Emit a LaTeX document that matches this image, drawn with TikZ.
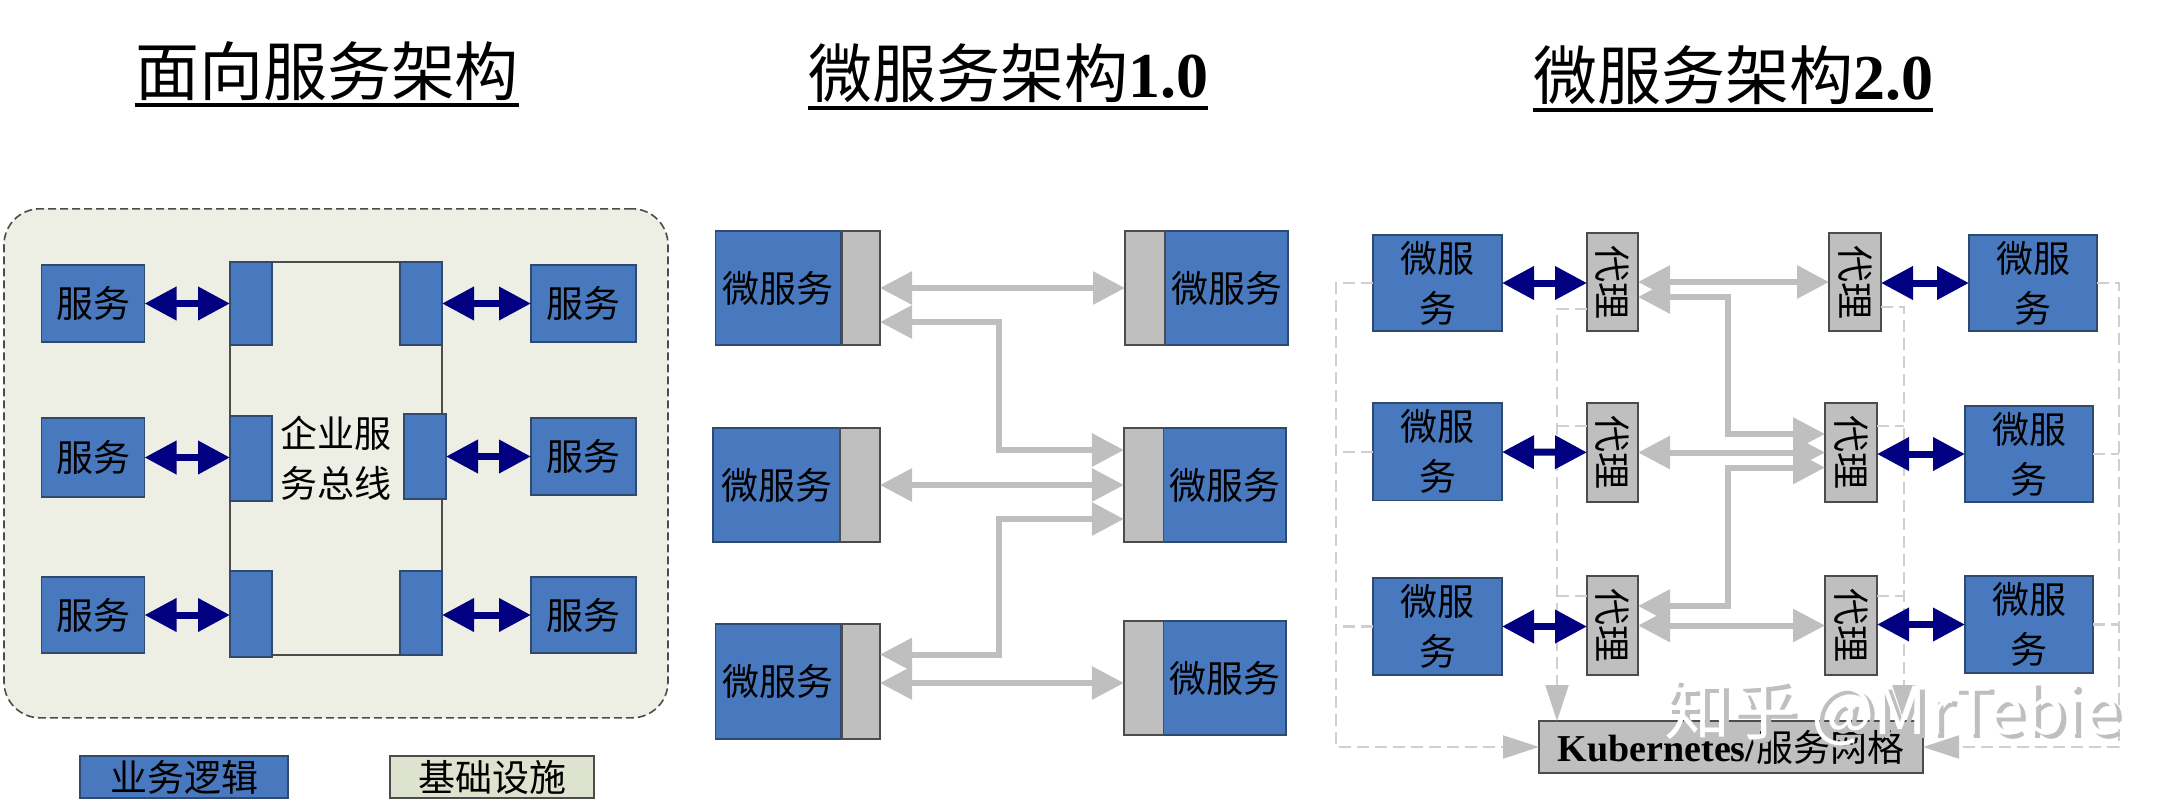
\documentclass[tikz,border=0pt]{standalone}
\usepackage{fontspec}
\usepackage{tikz}
\usetikzlibrary{arrows.meta}
\setmainfont{Noto Sans CJK SC}
\newfontfamily\latinfont{Liberation Serif}
\definecolor{svcblue}{HTML}{4878BE}
\definecolor{svcedge}{HTML}{2F4A6E}
\definecolor{infra}{HTML}{EEEFE4}
\definecolor{infrakey}{HTML}{DDE3CF}
\definecolor{lane}{HTML}{BFBFBF}
\definecolor{dashlane}{HTML}{CFCFCF}
\newcommand{\proxytext}{\rotatebox{-90}{代理}}

\begin{document}
\begin{tikzpicture}[x=0.5pt,y=-0.5pt,
	every node/.style={inner sep=0pt,outer sep=0pt,font=\fontsize{18.5}{25}\selectfont},
	dim/.style 2 args={minimum width=#1*0.5pt,minimum height=#2*0.5pt},
	svc/.style={draw=svcedge,line width=0.8pt,fill=svcblue,align=center},
	side/.style={draw=black!70,line width=0.8pt,fill=lane,align=center},
	title/.style={anchor=base,font=\fontsize{32}{38}\selectfont},
	rule/.style={line width=2pt},
	navy link/.style={line width=3.5pt,color=blue!50!black,{Triangle[length=16pt,width=16pt]}-{Triangle[length=16pt,width=16pt]}},
	gray link/.style={line width=3pt,color=lane,{Triangle[length=16pt,width=16pt]}-{Triangle[length=16pt,width=16pt]}},
	dash link/.style={line width=1.1pt,color=dashlane,dash pattern=on 6pt off 3pt},
	dash arrow/.style={dash link,-{Triangle[length=18pt,width=11.5pt,color=lane]}}
]
\useasboundingbox (0,0) rectangle (2176,804);

% titles
\node [title] (t1) at (327,95) {面向服务架构};
\node [title] (t2) at (1008,97) {微服务架构{\latinfont\bfseries 1.0}};
\node [title] (t3) at (1733,99) {微服务架构{\latinfont\bfseries 2.0}};
\draw [rule] ([yshift=-5pt]t1.base west) -- ([yshift=-5pt]t1.base east);
\draw [rule] ([yshift=-5.5pt]t2.base west) -- ([yshift=-5.5pt]t2.base east);
\draw [rule] ([yshift=-5.5pt]t3.base west) -- ([yshift=-5.5pt]t3.base east);

% service oriented
\node [draw=black!70,line width=0.8pt,dash pattern=on 4pt off 2pt,fill=infra,rounded corners=18pt,dim={664}{509}] (z) at (336,463.3) {};
\node [draw=black!70,line width=0.8pt,fill=infra,align=center,dim={212}{393}] (bus) at (336,458.5) {企业服\\务总线};
\node [svc,dim={103}{77}] (s1) at (93,303.5) {服务};
\node [svc,dim={103}{79}] (s2) at (93,457.5) {服务};
\node [svc,dim={103}{76}] (s3) at (93,615) {服务};
\node [svc,dim={105}{77}] (s4) at (583.5,303.5) {服务};
\node [svc,dim={105}{77}] (s5) at (583.5,456.5) {服务};
\node [svc,dim={105}{76}] (s6) at (583.5,615) {服务};
\node [svc,dim={42}{83}] (a1) at (251,303.5) {};
\node [svc,dim={42}{85}] (a2) at (251,458.5) {};
\node [svc,dim={42}{86}] (a3) at (251,614) {};
\node [svc,dim={42}{83}] (a4) at (421,303.5) {};
\node [svc,dim={42}{85}] (a5) at (425,456.5) {};
\node [svc,dim={42}{84}] (a6) at (421,613) {};
\draw [navy link] (s1) -- (a1);
\draw [navy link] (s2) -- (a2.west |- s2);
\draw [navy link] (s3) -- (a3.west |- s3);
\draw [navy link] (a4) -- (s4);
\draw [navy link] (a5) -- (s5);
\draw [navy link] (a6.east |- s6) -- (s6);
\node [svc,dim={208}{42}] (l1) at (184,777) {业务逻辑};
\node [draw=black!70,line width=0.8pt,fill=infrakey,dim={204}{42}] (l2) at (492,777) {基础设施};

% microservices 1.0
\node [svc,dim={125}{114}] (m1) at (778,288) {微服务};
\node [svc,dim={127}{114.5}] (m2) at (776.5,485) {微服务};
\node [svc,dim={125}{115}] (m3) at (778,681.5) {微服务};
\node [side,dim={38}{114}] (g1) at (861,288) {};
\node [side,dim={40}{114.5}] (g2) at (860,485) {};
\node [side,dim={38}{115}] (g3) at (861,681.5) {};
\node [svc,dim={123}{114}] (n1) at (1226.5,288) {微服务};
\node [svc,dim={122.6}{114.5}] (n2) at (1224.7,485) {微服务};
\node [svc,dim={122.6}{114}] (n3) at (1224.7,678) {微服务};
\node [side,dim={40}{114}] (h1) at (1145,288) {};
\node [side,dim={39.5}{114.5}] (h2) at (1143.7,485) {};
\node [side,dim={39.5}{114}] (h3) at (1143.7,678) {};
\coordinate (u1) at (999,322);
\coordinate (u2) at (999,450);
\coordinate (u3) at (999,519);
\coordinate (u4) at (999,654.5);
\coordinate (u5) at (999,683);
\draw [gray link] (g1) -- (h1);
\draw [gray link] (g1.east |- u1) -- (u1) -- (u2) -- (h2.west |- u2);
\draw [gray link] (g2) -- (h2);
\draw [gray link] (g3.east |- u4) -- (u4) -- (u3) -- (h2.west |- u3);
\draw [gray link] (g3.east |- u5) -- (h3.west |- u5);

% microservices 2.0
\node [svc,dim={129}{96}] (b1) at (1437.5,283) {微服\\务};
\node [svc,dim={129}{97.5}] (b2) at (1437.5,451.7) {微服\\务};
\node [svc,dim={129}{97}] (b3) at (1437.5,626.5) {微服\\务};
\node [svc,dim={128}{96}] (c1) at (2033,283) {微服\\务};
\node [svc,dim={128}{96}] (c2) at (2029,454) {微服\\务};
\node [svc,dim={128}{97}] (c3) at (2029,624.5) {微服\\务};
\node [side,dim={51}{98}] (p1) at (1612.5,282) {\proxytext};
\node [side,dim={51}{99}] (p2) at (1612.5,452.5) {\proxytext};
\node [side,dim={51}{99}] (p3) at (1612.5,625.5) {\proxytext};
\node [side,dim={52}{98}] (q1) at (1855,282) {\proxytext};
\node [side,dim={52}{99}] (q2) at (1851,452.5) {\proxytext};
\node [side,dim={52}{99}] (q3) at (1851,625.5) {\proxytext};
\node [side,dim={384}{52}] (k) at (1731,747) {{\latinfont\bfseries\fontsize{19}{25}\selectfont Kubernetes/}服务网格};
\coordinate (d1) at (1336,747);
\coordinate (d2) at (1557,309);
\coordinate (d3) at (1557,426);
\coordinate (d4) at (1557,596);
\coordinate (d5) at (1904,307);
\coordinate (d6) at (1904,426);
\coordinate (d7) at (1904,596);
\coordinate (d8) at (2119,747);
\draw [dash arrow] (b1.west) -| (d1) -- (k.west);
\draw [dash link] (b2.west) -- (b2.west -| d1);
\draw [dash link] (b3.west) -- (b3.west -| d1);
\draw [dash arrow] (p1.west |- d2) -- (d2) -- (d2 |- k.north);
\draw [dash link] (p2.west |- d3) -- (d3);
\draw [dash link] (p3.west |- d4) -- (d4);
\draw [dash arrow] (q1.east |- d5) -- (d5) -- (d5 |- k.north);
\draw [dash link] (q2.east |- d6) -- (d6);
\draw [dash link] (q3.east |- d7) -- (d7);
\draw [dash arrow] (c1.east) -| (d8) -- (k.east);
\draw [dash link] (c2.east) -- (c2.east -| d8);
\draw [dash link] (c3.east) -- (c3.east -| d8);
\draw [navy link] (b1) -- (p1.west |- b1);
\draw [navy link] (b2) -- (p2);
\draw [navy link] (b3) -- (p3.west |- b3);
\draw [navy link] (q1.east |- c1) -- (c1);
\draw [navy link] (q2.east |- c2) -- (c2);
\draw [navy link] (q3.east |- c3) -- (c3);
\coordinate (e1) at (1728,297);
\coordinate (e2) at (1728,434);
\coordinate (e3) at (1728,467.5);
\coordinate (e4) at (1728,606);
\draw [gray link] (p1) -- (q1);
\draw [gray link] (p1.east |- e1) -- (e1) -- (e2) -- (q2.west |- e2);
\draw [gray link] (p2) -- (q2);
\draw [gray link] (p3.east |- e4) -- (e4) -- (e3) -- (q2.west |- e3);
\draw [gray link] (p3) -- (q3);

% watermark
\node [lane,font=\fontsize{33}{38}\selectfont] (w0) at (1897,716) {知乎 @MrTebie};
\node [white,font=\fontsize{33}{38}\selectfont] (w1) at (1892,712) {知乎 @MrTebie};
\end{tikzpicture}
\end{document}
